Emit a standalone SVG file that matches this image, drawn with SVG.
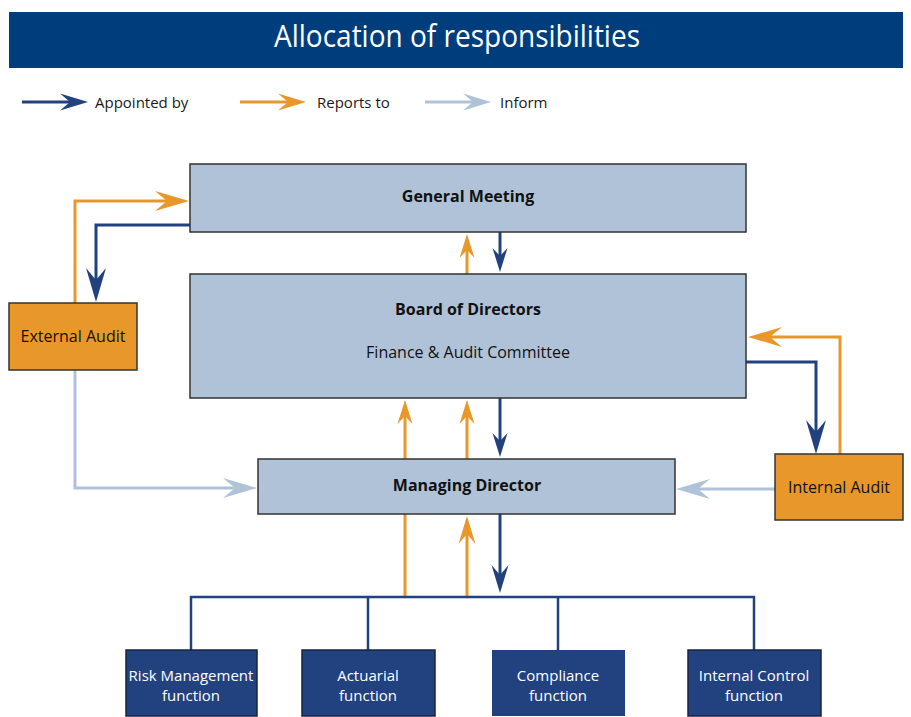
<svg xmlns="http://www.w3.org/2000/svg" width="911" height="717" viewBox="0 0 911 717">
  <style>
    text { font-family: "Open Sans", "Noto Sans", "Liberation Sans", sans-serif; }
    .title { fill: #ffffff; font-size: 31px; text-anchor: middle; }
    .legend { fill: #1a1a1a; font-size: 15px; }
    .box { fill: #B0C2D7; stroke: #333333; stroke-width: 1.5; }
    .audit { fill: #E8972A; stroke: #333333; stroke-width: 1.5; }
    .func { fill: #22427F; stroke: #1a2440; stroke-width: 1.5; }
    .bold { font-weight: bold; font-size: 16px; fill: #111111; text-anchor: middle; }
    .reg { font-size: 16px; fill: #111111; text-anchor: middle; }
    .ftxt { font-size: 15px; fill: #ffffff; text-anchor: middle; }
    .c { fill: none; stroke-width: 3; }
    .dark { stroke: #22427F; }
    .orange { stroke: #E8972A; }
    .light { stroke: #B0C2D7; }
  </style>
  <defs>
    <!-- arrowheads: tip sits 10 units past the line end -->
    <marker id="dL" markerUnits="userSpaceOnUse" orient="auto" refX="-10" refY="0" markerWidth="40" markerHeight="24" overflow="visible">
      <path d="M0,0 L-34,-10 L-22,0 L-34,10 Z" fill="#22427F"/>
    </marker>
    <marker id="oL" markerUnits="userSpaceOnUse" orient="auto" refX="-10" refY="0" markerWidth="40" markerHeight="24" overflow="visible">
      <path d="M0,0 L-34,-10 L-22,0 L-34,10 Z" fill="#E8972A"/>
    </marker>
    <marker id="lL" markerUnits="userSpaceOnUse" orient="auto" refX="-10" refY="0" markerWidth="40" markerHeight="24" overflow="visible">
      <path d="M0,0 L-34,-10 L-22,0 L-34,10 Z" fill="#B0C2D7"/>
    </marker>
    <marker id="dM" markerUnits="userSpaceOnUse" orient="auto" refX="-10" refY="0" markerWidth="32" markerHeight="20" overflow="visible">
      <path d="M0,0 L-28,-8.5 L-18,0 L-28,8.5 Z" fill="#22427F"/>
    </marker>
    <marker id="oM" markerUnits="userSpaceOnUse" orient="auto" refX="-10" refY="0" markerWidth="32" markerHeight="20" overflow="visible">
      <path d="M0,0 L-28,-8.5 L-18,0 L-28,8.5 Z" fill="#E8972A"/>
    </marker>
    <marker id="lM" markerUnits="userSpaceOnUse" orient="auto" refX="-10" refY="0" markerWidth="32" markerHeight="20" overflow="visible">
      <path d="M0,0 L-28,-8.5 L-18,0 L-28,8.5 Z" fill="#B0C2D7"/>
    </marker>
    <marker id="dS" markerUnits="userSpaceOnUse" orient="auto" refX="-10" refY="0" markerWidth="28" markerHeight="18" overflow="visible">
      <path d="M0,0 L-24,-7.5 L-16,0 L-24,7.5 Z" fill="#22427F"/>
    </marker>
    <marker id="oS" markerUnits="userSpaceOnUse" orient="auto" refX="-10" refY="0" markerWidth="28" markerHeight="18" overflow="visible">
      <path d="M0,0 L-24,-7.5 L-16,0 L-24,7.5 Z" fill="#E8972A"/>
    </marker>
  </defs>

  <!-- header band -->
  <g id="header">
    <rect x="9" y="12" width="894" height="56" fill="#003D7C"/>
    <text class="title" x="457" y="47" textLength="366" lengthAdjust="spacingAndGlyphs">Allocation of responsibilities</text>
  </g>

  <!-- legend -->
  <g id="legend">
    <path class="c dark" d="M22,102 H78" marker-end="url(#dM)"/>
    <text class="legend" x="95" y="108">Appointed by</text>
    <path class="c orange" d="M240,102 H296" marker-end="url(#oM)"/>
    <text class="legend" x="317" y="108">Reports to</text>
    <path class="c light" d="M425,102 H481" marker-end="url(#lM)"/>
    <text class="legend" x="500" y="108">Inform</text>
  </g>

  <!-- connectors -->
  <g id="connectors">
    <!-- External Audit reports to General Meeting -->
    <path class="c orange" d="M75,303 V201 H179" marker-end="url(#oL)"/>
    <!-- General Meeting appoints External Audit -->
    <path class="c dark" d="M190,225 H96 V292" marker-end="url(#dL)"/>
    <!-- Board <-> General Meeting -->
    <path class="c orange" d="M467,274 V244" marker-end="url(#oS)"/>
    <path class="c dark" d="M500,232 V262" marker-end="url(#dS)"/>
    <!-- Managing Director <-> Board -->
    <path class="c orange" d="M405,459 V410" marker-end="url(#oS)"/>
    <path class="c orange" d="M467,459 V410" marker-end="url(#oS)"/>
    <path class="c dark" d="M500,398 V447" marker-end="url(#dS)"/>
    <!-- key functions <-> Managing Director -->
    <path class="c orange" d="M405,597 V514"/>
    <path class="c orange" d="M467,597 V526" marker-end="url(#oM)"/>
    <path class="c dark" d="M500,514 V583" marker-end="url(#dM)"/>
    <!-- bus to the key functions -->
    <path class="c dark" style="stroke-width:2.5" d="M191,650 V597 H754 V650 M368,597 V650 M558,597 V650"/>
    <!-- Board appoints Internal Audit -->
    <path class="c dark" d="M746,362 H816 V444" marker-end="url(#dL)"/>
    <!-- Internal Audit reports to Board -->
    <path class="c orange" d="M840,454 V337 H758" marker-end="url(#oL)"/>
    <!-- audits inform the Managing Director -->
    <path class="c light" d="M75,370 V488 H247" marker-end="url(#lL)"/>
    <path class="c light" d="M775,489 H686" marker-end="url(#lL)"/>
  </g>

  <g id="general-meeting">
    <rect class="box" x="190" y="164" width="556" height="68"/>
    <text class="bold" x="468" y="202">General Meeting</text>
  </g>

  <g id="board-of-directors">
    <rect class="box" x="190" y="274" width="556" height="124"/>
    <text class="bold" x="468" y="315">Board of Directors</text>
    <text class="reg" x="468" y="358">Finance &amp; Audit Committee</text>
  </g>

  <g id="managing-director">
    <rect class="box" x="258" y="459" width="417" height="55"/>
    <text class="bold" x="467" y="491">Managing Director</text>
  </g>

  <g id="external-audit">
    <rect class="audit" x="9" y="303" width="128" height="67"/>
    <text class="reg" x="73" y="342">External Audit</text>
  </g>

  <g id="internal-audit">
    <rect class="audit" x="775" y="454" width="128" height="66"/>
    <text class="reg" x="839" y="493">Internal Audit</text>
  </g>

  <g id="risk-management">
    <rect class="func" x="126" y="650" width="131" height="66"/>
    <text class="ftxt" x="191" y="681">Risk Management</text>
    <text class="ftxt" x="191" y="701">function</text>
  </g>

  <g id="actuarial">
    <rect class="func" x="302" y="650" width="133" height="66"/>
    <text class="ftxt" x="368" y="681">Actuarial</text>
    <text class="ftxt" x="368" y="701">function</text>
  </g>

  <g id="compliance">
    <rect class="func" x="492" y="650" width="133" height="66" style="stroke:none"/>
    <text class="ftxt" x="558" y="681">Compliance</text>
    <text class="ftxt" x="558" y="701">function</text>
  </g>

  <g id="internal-control">
    <rect class="func" x="688" y="650" width="133" height="66"/>
    <text class="ftxt" x="754" y="681">Internal Control</text>
    <text class="ftxt" x="754" y="701">function</text>
  </g>
</svg>
